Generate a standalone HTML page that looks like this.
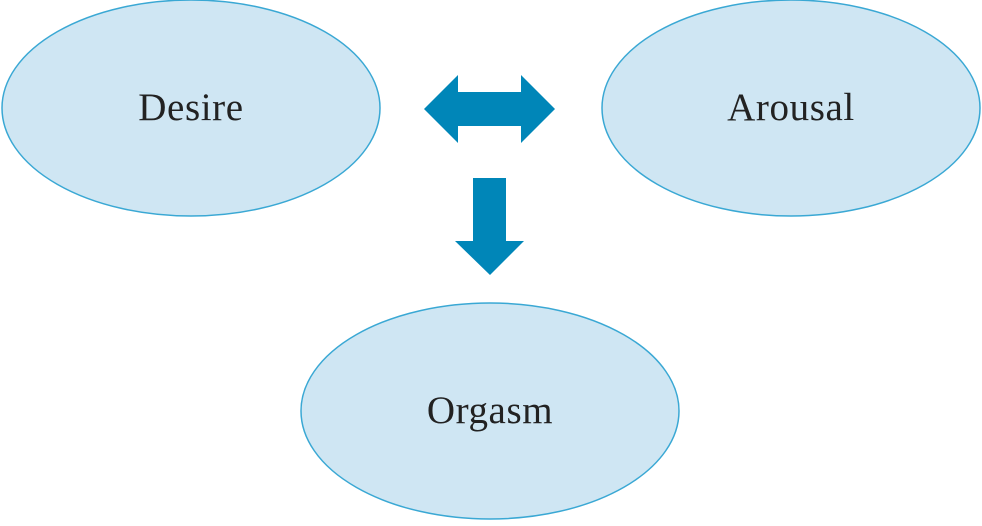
<!DOCTYPE html>
<html><head><style>html,body{margin:0;padding:0;background:#fff;}</style></head>
<body>
<svg width="982" height="521" viewBox="0 0 982 521" xmlns="http://www.w3.org/2000/svg">
<g fill="#cfe6f3" stroke="#3aa8d4" stroke-width="1.5">
<ellipse cx="191" cy="108" rx="189" ry="108"/>
<ellipse cx="791" cy="108" rx="189" ry="108"/>
<ellipse cx="490" cy="411" rx="189" ry="108"/>
</g>
<g fill="#0086b8">
<polygon points="424,109 458,75 458,92 521,92 521,75 555,109 521,143 521,126 458,126 458,143"/>
<polygon points="473,178 506,178 506,241 524,241 490,275 455,241 473,241"/>
</g>
<g font-family="'Liberation Serif', serif" font-size="39" fill="#222" text-anchor="middle" letter-spacing="0.6">
<text x="191" y="120">Desire</text>
<text x="791" y="120">Arousal</text>
<text x="490" y="423">Orgasm</text>
</g>
</svg>
</body></html>
